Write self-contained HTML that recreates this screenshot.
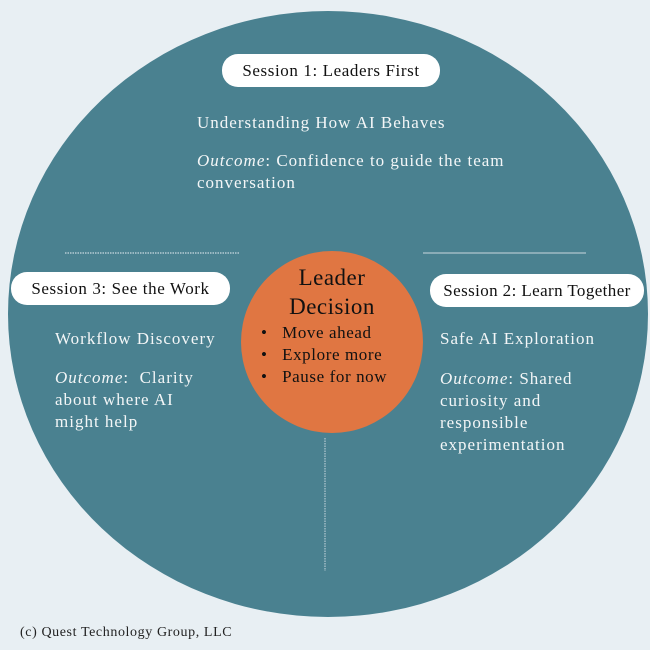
<!DOCTYPE html>
<html><head><meta charset="utf-8"><style>
body{margin:0;width:650px;height:650px;background:#e8eff3;position:relative;overflow:hidden;font-family:"Liberation Serif","DejaVu Serif",serif;}
.a{position:absolute;white-space:nowrap;}
.pill{position:absolute;background:#fff;border-radius:16px;color:#111;font-size:17px;letter-spacing:0.6px;text-align:center;line-height:33px;height:33px;}
.w{color:#f3f6f7;font-size:17px;line-height:22px;letter-spacing:1px;}
</style></head><body>
<svg width="650" height="650" style="position:absolute;left:0;top:0">
<ellipse cx="328" cy="314" rx="320" ry="303" fill="#4a8190"/>
<line x1="65" y1="253" x2="240" y2="253" stroke="#e8eff3" stroke-width="1" stroke-dasharray="1.5,1"/>
<line x1="423" y1="253" x2="586" y2="253" stroke="#c9d8de" stroke-width="1"/>
<line x1="325" y1="438" x2="325" y2="571" stroke="#c9d8de" stroke-width="1" stroke-dasharray="1.5,1"/>
<circle cx="332" cy="342" r="91" fill="#e07642"/>
</svg>
<div class="pill" style="left:222px;top:54px;width:218px;">Session 1: Leaders First</div>
<div class="pill" style="left:11px;top:272px;width:219px;">Session 3: See the Work</div>
<div class="pill" style="left:430px;top:274px;width:214px;letter-spacing:0.4px;">Session 2: Learn Together</div>
<div class="a w" style="left:197px;top:112px;">Understanding How AI Behaves</div>
<div class="a w" style="left:197px;top:150px;"><i>Outcome</i>: Confidence to guide the team<br>conversation</div>
<div class="a w" style="left:55px;top:328px;">Workflow Discovery</div>
<div class="a w" style="left:55px;top:367px;"><i>Outcome</i>:&nbsp; Clarity<br>about where AI<br>might help</div>
<div class="a w" style="left:440px;top:328px;">Safe AI Exploration</div>
<div class="a w" style="left:440px;top:368px;"><i>Outcome</i>: Shared<br>curiosity and<br>responsible<br>experimentation</div>
<div class="a" style="left:241px;top:263px;width:182px;text-align:center;font-size:23px;line-height:29px;letter-spacing:0.5px;color:#111;">Leader<br>Decision</div>
<div class="a" style="left:261px;top:322px;font-size:17px;line-height:22px;letter-spacing:0.6px;color:#111;">
<div>•&nbsp;&nbsp; Move ahead</div><div>•&nbsp;&nbsp; Explore more</div><div>•&nbsp;&nbsp; Pause for now</div></div>
<div class="a" style="left:20px;top:625px;font-size:14px;letter-spacing:0.6px;color:#222;">(c) Quest Technology Group, LLC</div>
</body></html>
